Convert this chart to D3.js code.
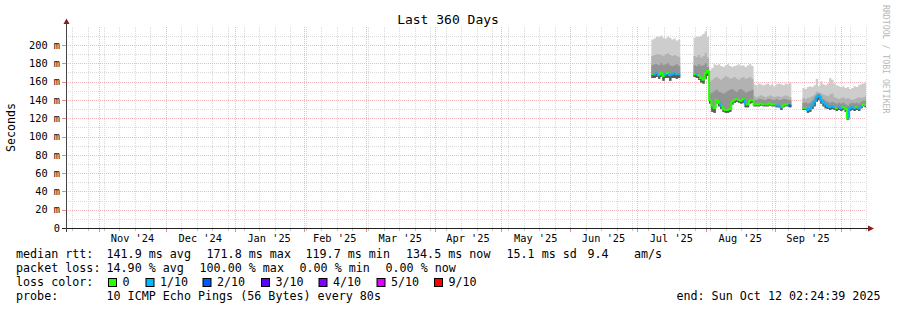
<!DOCTYPE html>
<html>
<head>
<meta charset="utf-8">
<script src="https://cdn.jsdelivr.net/npm/d3@7"></script>
<style>
html, body { margin: 0; padding: 0; background: #fff; }
svg { display: block; }
text { font-family: "DejaVu Sans Mono", monospace; fill: #000; }
</style>
</head>
<body>
<svg id="chart" width="897" height="310"></svg>
<script>
// one sample per day, starting at firstDay (null = no data)
var firstDay = "2025-07-07";

// smoke: top of the lightest band (ms)
var rttMax = [
  206, 207, 209, 209, 210, 208, 207, 209, 208, 206, 207, 205, 206,
  null, null, null, null, null, null,
  208, 209, 209, 210, 212, 215, 209,
  172, 175, 179, 178, 179, 177, 176, 178, 179, 177, 176, 177, 178, 179, 177, 178, 176, 178, 179, 177,
  157, 156, 158, 157, 156, 157, 158, 156, 157, 155, 157, 158, 157, 156, 158, 157, 159,
  null, null, null, null, null,
  153, 152, 154, 155, 154, 156, 163, 155, 160, 157, 156, 158, 164, 162, 158, 156, 155, 154, 155, 153, 154, 152, 153, 155, 154, 156, 157, 158, 159
];
var rttUp2 = [
  188, 189, 190, 190, 189, 188, 190, 191, 189, 188, 189, 188, 187,
  null, null, null, null, null, null,
  188, 187, 189, 186, 188, 191, 186,
  160, 162, 164, 165, 163, 162, 164, 166, 165, 163, 164, 165, 163, 162, 164, 165, 163, 164, 165, 163,
  144, 143, 144, 145, 144, 143, 144, 145, 144, 143, 144, 144, 143, 144, 145, 144, 143,
  null, null, null, null, null,
  142, 141, 142, 143, 144, 146, 149, 148, 147, 146, 145, 144, 146, 147, 143, 142, 141, 142, 143, 141, 142, 141, 140, 141, 142, 143, 142, 143, 144
];
var rttUp3 = [
  178, 179, 179, 178, 180, 178, 179, 180, 178, 177, 178, 179, 177,
  null, null, null, null, null, null,
  178, 177, 179, 177, 178, 180, 176,
  147, 148, 150, 151, 149, 148, 147, 148, 150, 151, 152, 150, 149, 151, 152, 150, 148, 149, 150, 151,
  140, 140, 141, 141, 140, 140, 141, 141, 140, 140, 141, 140, 140, 141, 141, 140, 140,
  null, null, null, null, null,
  137, 137, 136, 137, 139, 142, 146, 147, 144, 141, 139, 138, 137, 138, 137, 136, 137, 136, 137, 135, 134, 136, 137, 136, 137, 136, 138, 139, 139
];
// median rtt (ms)
var rttMedian = [
  168, 168, 169, 167, 170, 166, 168, 169, 167, 168, 169, 168, 168,
  null, null, null, null, null, null,
  168, 168, 167, 164, 162, 169, 171.8,
  140, 134, 131, 140, 137, 134, 130, 129, 129, 130, 138, 140, 141, 140, 139, 141, 136, 135, 139, 140,
  135, 135, 135, 136, 135, 135, 135, 136, 135, 135, 134, 134, 132, 134, 135, 135, 134,
  null, null, null, null, null,
  131, 131, 129, 130, 134, 138, 143, 145, 140, 137, 135, 133, 132, 133, 132, 131, 132, 131, 132, 130, 119.7, 131, 132, 131, 132, 131, 133, 135, 134.5
];
// smoke: lowest ping (ms)
var rttMin = [
  164, 164, 165, 163, 165, 161, 164, 164, 161, 164, 164, 163, 164,
  null, null, null, null, null, null,
  165, 164, 162, 159, 158, 163, 166,
  136, 127, 126, 136, 133, 130, 127, 126, 126, 127, 135, 137, 138, 137, 136, 137, 132, 132, 136, 137,
  133, 133, 133, 134, 133, 133, 133, 134, 133, 133, 132, 132, 129, 132, 133, 133, 132,
  null, null, null, null, null,
  129, 129, 126, 127, 130, 133, 138, 140, 136, 133, 131, 130, 129, 130, 129, 128, 129, 128, 129, 127, 118, 128, 129, 128, 129, 128, 131, 133, 132
];
// lost pings (index into lossColors)
var lossIndex = [
  0, 1, 1, 1, 0, 0, 1, 0, 1, 1, 1, 1, 1,
  null, null, null, null, null, null,
  0, 1, 0, 0, 0, 0, 0,
  0, 0, 0, 0, 0, 1, 0, 0, 0, 0, 0, 0, 0, 0, 0, 0, 1, 0, 0, 0,
  0, 0, 0, 0, 0, 0, 0, 0, 0, 0, 1, 1, 1, 0, 0, 0, 2,
  null, null, null, null, null,
  0, 0, 1, 1, 1, 1, 1, 1, 1, 1, 1, 1, 1, 1, 1, 0, 1, 1, 0, 0, 0, 1, 1, 1, 0, 1, 1, 0, 0
];

var lossColors = ["#26ff00", "#00b8ff", "#0059ff", "#5e00ff", "#7e00ff", "#dd00ff", "#ff0000"];
var lossLabels = ["0", "1/10", "2/10", "3/10", "4/10", "5/10", "9/10"];

var yTickValues = [0, 20, 40, 60, 80, 100, 120, 140, 160, 180, 200];
var yTickLabels = ["0", "20 m", "40 m", "60 m", "80 m", "100 m", "120 m", "140 m", "160 m", "180 m", "200 m"];
var monthLabels = ["Nov '24", "Dec '24", "Jan '25", "Feb '25", "Mar '25", "Apr '25", "May '25", "Jun '25", "Jul '25", "Aug '25", "Sep '25"];

var legendRtt = ["median rtt:", "141.9 ms avg", "171.8 ms max", "119.7 ms min", "134.5 ms now", "15.1 ms sd", "9.4", "am/s"];
var legendLoss = ["packet loss:", "14.90 % avg", "100.00 % max", "0.00 % min", "0.00 % now"];

var startTime = new Date(Date.UTC(2024, 9, 17, 2, 24, 39));
var endTime = new Date(Date.UTC(2025, 9, 12, 2, 24, 39));

var svg = d3.select("#chart");
var x = d3.scaleUtc().domain([startTime, endTime]).range([66, 866]);
var y = d3.scaleLinear().domain([0, 220]).range([228, 26.7]);
var crisp = function(v) { return Math.round(v) + 0.5; };

// ---- grid ----
var grid = svg.append("g");
var weeks = d3.utcSunday.range(startTime, endTime);
var months = d3.utcMonth.range(startTime, endTime);
var minorColor = "#dadada", majorColor = "#f5b8b8";

grid.selectAll(".vminor").data(weeks).enter().append("line")
    .attr("x1", d => crisp(x(d))).attr("x2", d => crisp(x(d)))
    .attr("y1", y(0)).attr("y2", y(220))
    .attr("stroke", minorColor).attr("stroke-dasharray", "1,1");
grid.selectAll(".hminor").data(y.ticks(22).filter(v => v % 20 !== 0 && v < 220)).enter().append("line")
    .attr("x1", 66).attr("x2", 866)
    .attr("y1", d => crisp(y(d))).attr("y2", d => crisp(y(d)))
    .attr("stroke", minorColor).attr("stroke-dasharray", "1,1");
grid.selectAll(".vmajor").data(months).enter().append("line")
    .attr("x1", d => crisp(x(d))).attr("x2", d => crisp(x(d)))
    .attr("y1", y(0)).attr("y2", y(220))
    .attr("stroke", majorColor).attr("stroke-dasharray", "1,1");
grid.selectAll(".hmajor").data(yTickValues.filter(v => v > 0)).enter().append("line")
    .attr("x1", 66).attr("x2", 866)
    .attr("y1", d => crisp(y(d))).attr("y2", d => crisp(y(d)))
    .attr("stroke", majorColor).attr("stroke-dasharray", "1,1");

// small ticks outside the axes
grid.selectAll(".xtm").data(weeks).enter().append("line")
    .attr("x1", d => crisp(x(d))).attr("x2", d => crisp(x(d)))
    .attr("y1", 229).attr("y2", 231).attr("stroke", "#c4c4c4");
grid.selectAll(".xtM").data(months).enter().append("line")
    .attr("x1", d => crisp(x(d))).attr("x2", d => crisp(x(d)))
    .attr("y1", 229).attr("y2", 232).attr("stroke", "#e88a8a");
grid.selectAll(".ytM").data(yTickValues).enter().append("line")
    .attr("x1", 62).attr("x2", 66)
    .attr("y1", d => crisp(y(d))).attr("y2", d => crisp(y(d)))
    .attr("stroke", d => d === 0 ? "#333" : "#e88a8a");

// ---- data ----
var base = d3.utcParse("%Y-%m-%d %H")(firstDay + " 12");
var samples = rttMedian.map(function(m, i) {
    var t0 = d3.utcDay.offset(base, i);
    var t1 = d3.utcDay.offset(t0, 1);
    if (t1 > endTime) t1 = endTime;
    return { t0: t0, t1: t1, max: rttMax[i], up2: rttUp2[i], up3: rttUp3[i],
             med: m, min: rttMin[i], loss: lossIndex[i] };
});

// split into runs of consecutive days with data
var runs = [], cur = [];
samples.forEach(function(s) {
    if (s.med == null) { if (cur.length) runs.push(cur); cur = []; }
    else cur.push(s);
});
if (cur.length) runs.push(cur);

var layers = [
    { key: "max", color: "#cdcdcd" },
    { key: "up2", color: "#b2b2b2" },
    { key: "up3", color: "#939393" },
    { key: "med", color: "#5a5a5a" }
];

var plot = svg.append("g");
runs.forEach(function(run) {
    var pts = [];
    run.forEach(function(s) { pts.push({ t: s.t0, s: s }); pts.push({ t: s.t1, s: s }); });
    layers.forEach(function(l) {
        var area = d3.area()
            .x(p => x(p.t))
            .y0(p => y(p.s.min))
            .y1(p => y(p.s[l.key]));
        plot.append("path").attr("d", area(pts)).attr("fill", l.color);
    });
    var line = d3.line().x(p => x(p[0])).y(p => y(p[1]));
    run.forEach(function(s, i) {
        var prev = i > 0 ? run[i - 1].med : s.med;
        plot.append("path")
            .attr("d", line([[s.t0, prev], [s.t0, s.med], [s.t1, s.med]]))
            .attr("fill", "none")
            .attr("stroke", lossColors[s.loss])
            .attr("stroke-width", 2);
    });
});

// ---- axes ----
var axes = svg.append("g");
axes.append("line").attr("x1", 62).attr("x2", 869).attr("y1", 228.5).attr("y2", 228.5).attr("stroke", "#222");
axes.append("line").attr("x1", 66.5).attr("x2", 66.5).attr("y1", 232).attr("y2", 22).attr("stroke", "#444");
axes.append("path").attr("d", "M868,225.5 L874,228.5 L868,231.5 Z").attr("fill", "#8b1c1c");
axes.append("path").attr("d", "M63.5,24 L66.5,18.5 L69.5,24 Z").attr("fill", "#8b1c1c");

svg.append("g").selectAll("text").data(yTickValues).enter().append("text")
    .attr("x", 60).attr("y", d => y(d) + 3.7)
    .attr("text-anchor", "end").style("font-size", "10.3px")
    .text((d, i) => yTickLabels[i]);

var labelMonths = d3.utcMonth.range(d3.utcMonth.ceil(startTime), d3.utcMonth.floor(endTime));
svg.append("g").selectAll("text").data(labelMonths).enter().append("text")
    .attr("x", d => (x(d) + x(d3.utcMonth.offset(d, 1))) / 2)
    .attr("y", 241.5)
    .attr("text-anchor", "middle").style("font-size", "10.3px")
    .text((d, i) => monthLabels[i]);

// ---- titles ----
svg.append("text").attr("x", 448).attr("y", 24).attr("text-anchor", "middle")
    .style("font-size", "13px").text("Last 360 Days");
svg.append("text").attr("transform", "translate(15,127.5) rotate(-90)").attr("text-anchor", "middle")
    .style("font-size", "11.6px").text("Seconds");
svg.append("text").attr("transform", "translate(883,5) rotate(90)")
    .style("font-size", "8.2px").style("fill", "#b8b8b8").text("RRDTOOL / TOBI OETIKER");

// ---- legend ----
var legend = svg.append("g").style("font-size", "11.7px");
var rttX = [16, 106.5, 206.5, 305.5, 406, 506.5, 587.5, 634];
legendRtt.forEach(function(t, i) { legend.append("text").attr("x", rttX[i]).attr("y", 258.3).text(t); });
var lossX = [16, 106.5, 199.5, 299.5, 385.5];
legendLoss.forEach(function(t, i) { legend.append("text").attr("x", lossX[i]).attr("y", 272.3).text(t); });

legend.append("text").attr("x", 16).attr("y", 286.3).text("loss color:");
var swX = [108.5, 146, 203, 261.5, 319, 377, 434.5];
lossLabels.forEach(function(t, i) {
    legend.append("rect").attr("x", swX[i]).attr("y", 278.5).attr("width", 8).attr("height", 8)
        .attr("fill", lossColors[i]).attr("stroke", "#000").attr("stroke-width", 1);
    legend.append("text").attr("x", swX[i] + 14).attr("y", 286.3).text(t);
});

legend.append("text").attr("x", 16).attr("y", 300.3).text("probe:");
legend.append("text").attr("x", 106.5).attr("y", 300.3).text("10 ICMP Echo Pings (56 Bytes) every 80s");
legend.append("text").attr("x", 880.5).attr("y", 300.3).attr("text-anchor", "end").text("end: Sun Oct 12 02:24:39 2025");
</script>
</body>
</html>
